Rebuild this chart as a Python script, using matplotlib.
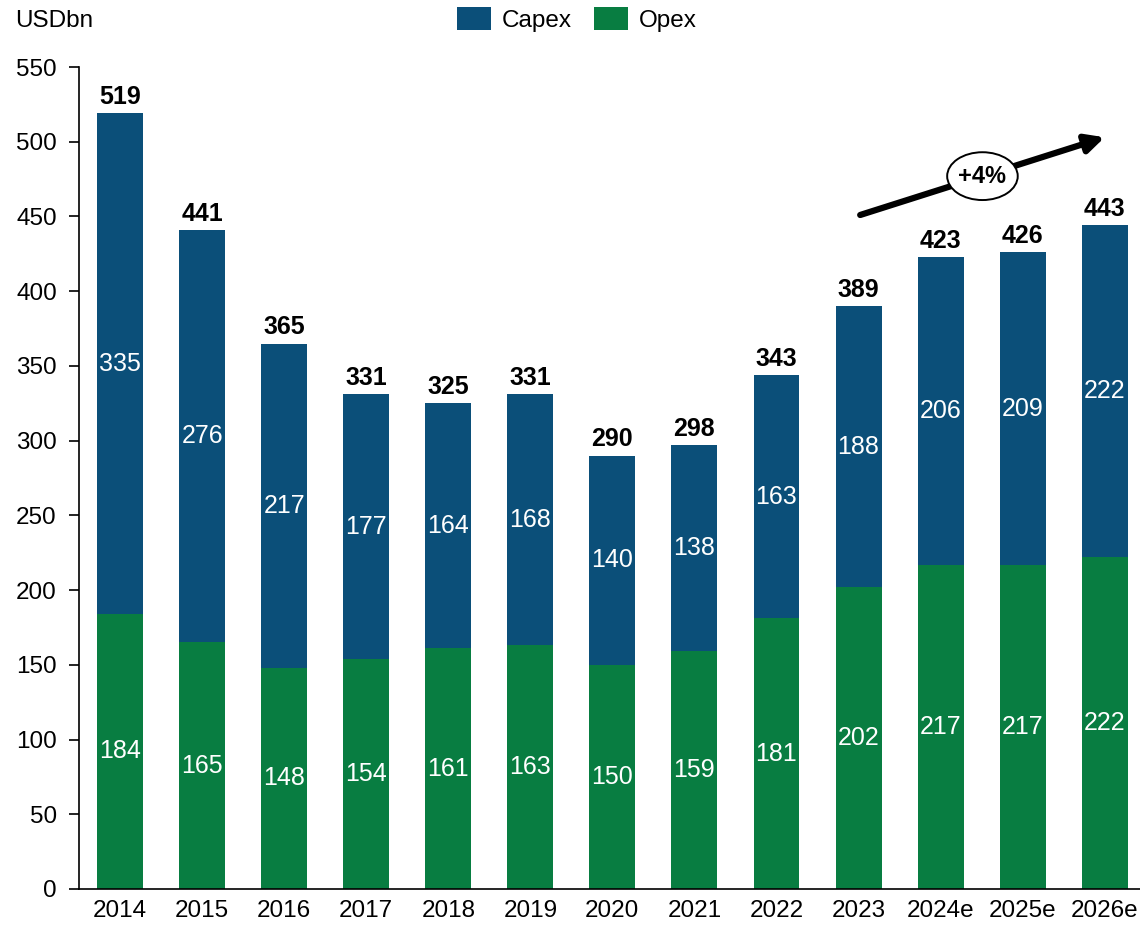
import numpy as np
import matplotlib.pyplot as plt
from matplotlib.patches import Ellipse

plt.rcParams['font.family'] = ['Liberation Sans', 'DejaVu Sans']

# ======== DADOS ========
years = ['2014', '2015', '2016', '2017', '2018', '2019', '2020', '2021',
         '2022', '2023', '2024e', '2025e', '2026e']
opex = [184, 165, 148, 154, 161, 163, 150, 159, 181, 202, 217, 217, 222]
capex = [335, 276, 217, 177, 164, 168, 140, 138, 163, 188, 206, 209, 222]
totals = [519, 441, 365, 331, 325, 331, 290, 298, 343, 389, 423, 426, 443]
growth_label = '+4%'

c_capex = '#0B4F79'
c_opex = '#087D41'
fs = 17.5

fig = plt.figure(figsize=(11.4, 9.26), dpi=100)
ax = fig.add_axes([0.0693, 0.04, 0.9307, 0.8876])

x = np.arange(len(years))
w = 0.56
ax.bar(x, opex, w, color=c_opex, label='Opex', zorder=2)
ax.bar(x, capex, w, bottom=opex, color=c_capex, label='Capex', zorder=2)

# rotulos dentro das barras
for i in range(len(years)):
    ax.text(x[i], opex[i] / 2, str(opex[i]), ha='center', va='center',
            color='white', fontsize=18, zorder=3)
    ax.text(x[i], opex[i] + capex[i] / 2, str(capex[i]), ha='center',
            va='center', color='white', fontsize=18, zorder=3)
    ax.annotate(str(totals[i]), (x[i], opex[i] + capex[i]),
                xytext=(0, 3), textcoords='offset points', ha='center',
                va='bottom', fontsize=18, fontweight='bold')

# seta de crescimento
ax.annotate('', xy=(12.0, 503), xytext=(9.02, 451),
            arrowprops=dict(arrowstyle='-|>,head_length=1.1,head_width=0.55',
                            lw=4.5, color='black', shrinkA=0, shrinkB=0),
            zorder=4)
ax.add_patch(Ellipse((10.51, 477), 0.86, 32, facecolor='white',
                     edgecolor='black', lw=1.4, zorder=5))
ax.text(10.51, 477, growth_label, ha='center', va='center', fontsize=17,
        fontweight='bold', zorder=6)

ax.set_xlim(-0.5, 12.43)
ax.set_ylim(0, 550)
ax.set_yticks(np.arange(0, 551, 50))
ax.set_xticks(x)
ax.set_xticklabels(years)
ax.tick_params(axis='y', length=7, width=1.2, labelsize=fs, pad=9)
ax.tick_params(axis='x', length=0, labelsize=fs, pad=8)
for s in ['top', 'right']:
    ax.spines[s].set_visible(False)
ax.spines['left'].set_linewidth(1.2)
ax.spines['bottom'].set_linewidth(1.2)

fig.text(0.013, 0.977, 'USDbn', fontsize=fs, va='center', ha='left')

h, l = ax.get_legend_handles_labels()
fig.legend(h[::-1], l[::-1], loc='center', bbox_to_anchor=(0.506, 0.979),
           ncol=2, frameon=False, fontsize=fs, handlelength=1.4,
           handleheight=1.1, columnspacing=0.9, handletextpad=0.45)

plt.savefig('out.png', dpi=100)
